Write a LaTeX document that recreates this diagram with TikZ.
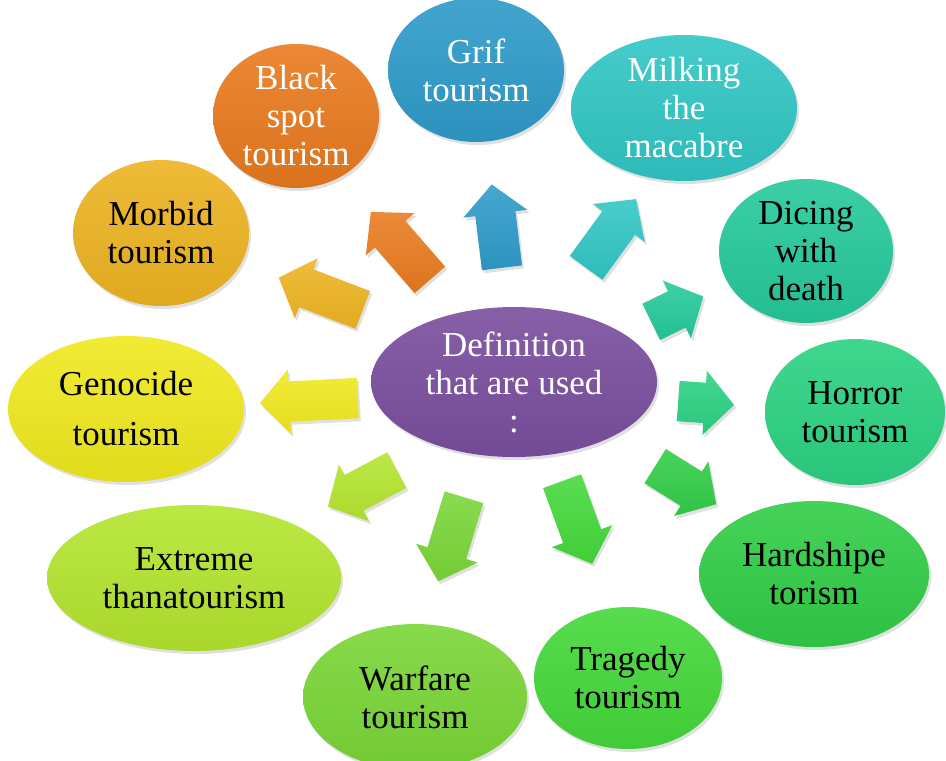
\documentclass[tikz,border=0pt]{standalone}
\usepackage{fontspec}
\setmainfont{Liberation Serif}
\usetikzlibrary{shapes.geometric,shapes.arrows,shadows}

\definecolor{cpurple}{HTML}{7A4E9E}
\definecolor{cgrif}{HTML}{2E9BC9}
\definecolor{cblack}{HTML}{E97A1F}
\definecolor{cmilk}{HTML}{30C6C4}
\definecolor{cmorbid}{HTML}{EDB422}
\definecolor{cdicing}{HTML}{26C99B}
\definecolor{cgeno}{HTML}{F0E91F}
\definecolor{chorror}{HTML}{2BD282}
\definecolor{cextreme}{HTML}{B4E52F}
\definecolor{chard}{HTML}{31CD47}
\definecolor{cwar}{HTML}{7AD637}
\definecolor{ctrag}{HTML}{45D83B}

\newcommand{\shaftstrut}{\rule{0pt}{40pt}}

\tikzset{
  softshadow/.style={drop shadow={shadow xshift=2pt,shadow yshift=-3pt,opacity=0.12,fill=black}},
  bubble/.style={ellipse, inner sep=0pt, align=center, draw=none,
    font=\fontsize{35}{38}\selectfont,
    top color=#1!90!white, bottom color=#1!94!black, softshadow},
  blk/.style={single arrow, draw=none, inner sep=0pt, anchor=tail,
    single arrow head extend=12pt, single arrow tip angle=95,
    top color=#1!88!white, bottom color=#1!95!black, softshadow},
}

\begin{document}
\begin{tikzpicture}[x=1pt,y=-1pt]
\useasboundingbox (0,0) rectangle (946,761);
\clip (0,0) rectangle (946,761);

% block arrows (placed by their tails)
\node[blk=cgrif,    minimum height=84pt,  rotate=97]  (agrif)  at (502,268) {\shaftstrut};
\node[blk=cblack,   minimum height=90pt,  rotate=131] (ablack) at (430,280) {\shaftstrut};
\node[blk=cmilk,    minimum height=85pt,  rotate=54]  (amilk)  at (586,268) {\shaftstrut};
\node[blk=cmorbid,  minimum height=90pt,  rotate=159] (amorb)  at (363,310) {\shaftstrut};
\node[blk=cgeno,    minimum height=98pt,  rotate=183] (ageno)  at (358,398) {\shaftstrut};
\node[blk=cdicing,  minimum height=58pt,  rotate=26]  (adice)  at (651,322) {\shaftstrut};
\node[blk=chorror,  minimum height=56pt,  rotate=-4]  (ahorr)  at (678,401) {\shaftstrut};
\node[blk=chard,    minimum height=72pt,  rotate=-32] (ahard)  at (655,466) {\shaftstrut};
\node[blk=ctrag,    minimum height=88pt,  rotate=-70] (atrag)  at (562,481) {\shaftstrut};
\node[blk=cwar,     minimum height=88pt,  rotate=-107](awar)   at (464,497) {\shaftstrut};
\node[blk=cextreme, minimum height=78pt,  rotate=208] (aext)   at (397,470) {\shaftstrut};

% bubbles
\node[bubble=cpurple, text=white, minimum width=286pt, minimum height=150pt] (c) at (514,382)
  {Definition\\that are used\\:};
\node[bubble=cgrif, text=white, minimum width=176pt, minimum height=144pt] (grif) at (476,70)
  {Grif\\tourism};
\node[bubble=cblack, text=white, minimum width=166pt, minimum height=144pt] (black) at (296,116)
  {Black\\spot\\tourism};
\node[bubble=cmilk, text=white, minimum width=226pt, minimum height=146pt] (milk) at (684,108)
  {Milking\\the\\macabre};
\node[bubble=cmorbid, minimum width=176pt, minimum height=146pt] (morbid) at (161,233)
  {Morbid\\tourism};
\node[bubble=cdicing, minimum width=174pt, minimum height=144pt] (dicing) at (806,251)
  {Dicing\\with\\death};
\node[bubble=cgeno, minimum width=236pt, minimum height=146pt] (geno) at (126,409)
  {Genocide\\[12pt]tourism};
\node[bubble=chorror, minimum width=180pt, minimum height=146pt] (horror) at (855,412)
  {Horror\\tourism};
\node[bubble=cextreme, minimum width=294pt, minimum height=146pt] (extreme) at (194,578)
  {Extreme\\thanatourism};
\node[bubble=chard, minimum width=230pt, minimum height=146pt] (hard) at (814,574)
  {Hardshipe\\torism};
\node[bubble=cwar, minimum width=224pt, minimum height=146pt] (war) at (415,697)
  {Warfare\\tourism};
\node[bubble=ctrag, minimum width=188pt, minimum height=142pt] (trag) at (628,678)
  {Tragedy\\tourism};
\end{tikzpicture}
\end{document}
